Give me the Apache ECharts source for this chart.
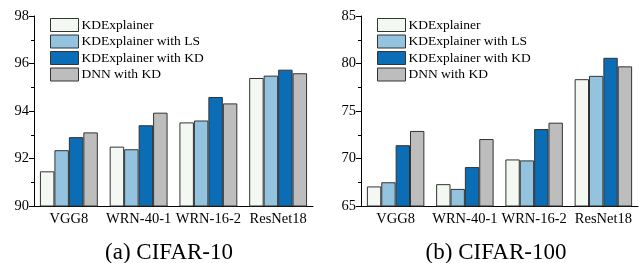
<!DOCTYPE html>
<html><head><meta charset="utf-8">
<script src="https://cdn.jsdelivr.net/npm/echarts@6/dist/echarts.min.js"></script>
<style>html,body{margin:0;padding:0;background:#fff}#c{width:644px;height:263px}</style>
</head><body><div id="c"></div>
<script>
const categories = ['VGG8', 'WRN-40-1', 'WRN-16-2', 'ResNet18'];
const seriesNames = ['KDExplainer', 'KDExplainer with LS', 'KDExplainer with KD', 'DNN with KD'];
const cifar10_KDExplainer = [91.46, 92.5, 93.52, 95.39];
const cifar10_LS = [92.35, 92.39, 93.6, 95.49];
const cifar10_KD = [92.9, 93.4, 94.59, 95.74];
const cifar10_DNN = [93.1, 93.93, 94.32, 95.59];
const cifar100_KDExplainer = [67.06, 67.3, 69.9, 78.35];
const cifar100_LS = [67.5, 66.8, 69.8, 78.7];
const cifar100_KD = [71.4, 69.1, 73.1, 80.6];
const cifar100_DNN = [72.9, 72.05, 73.77, 79.7];
const titles = ['(a) CIFAR-10', '(b) CIFAR-100'];

const colors = ['#f3f8f3', '#94c3df', '#0b6db5', '#bdbdbd'];
const font = 'Liberation Serif';
const chart = echarts.init(document.getElementById('c'), null, {renderer: 'canvas'});

function yAxis(gi, min, max, interval) {
  return {
    type: 'value', gridIndex: gi, min: min, max: max, interval: interval,
    axisLine: {show: true, lineStyle: {color: '#000', width: 1}},
    axisTick: {show: true, inside: false, length: 5, lineStyle: {color: '#000'}},
    minorTick: {show: true, splitNumber: 2, length: 3, lineStyle: {color: '#000'}},
    splitLine: {show: false},
    axisLabel: {color: '#000', fontFamily: font, fontSize: 14.5, margin: 5}
  };
}
function xAxis(gi) {
  return {
    type: 'category', gridIndex: gi, data: categories,
    axisLine: {show: true, lineStyle: {color: '#000', width: 1}},
    axisTick: {show: false},
    axisLabel: {color: '#000', fontFamily: font, fontSize: 14.5, margin: 6, interval: 0}
  };
}
const data10 = [cifar10_KDExplainer, cifar10_LS, cifar10_KD, cifar10_DNN];
const data100 = [cifar100_KDExplainer, cifar100_LS, cifar100_KD, cifar100_DNN];
const series = [];
[data10, data100].forEach((d, gi) => {
  d.forEach((vals, i) => {
    series.push({
      type: 'bar', name: seriesNames[i], xAxisIndex: gi, yAxisIndex: gi, data: vals,
      barGap: '0%', barCategoryGap: '17%',
      itemStyle: {color: colors[i], borderColor: '#333', borderWidth: 1},
      emphasis: {disabled: true}
    });
  });
});
function legend(left) {
  return {
    left: left, top: 18, orient: 'vertical', itemWidth: 28, itemHeight: 13, itemGap: 2.5,
    icon: 'rect',
    data: seriesNames.map((n) => ({name: n})),
    textStyle: {color: '#000', fontFamily: font, fontSize: 13.5, padding: [0, 0, 0, -2]},
    itemStyle: {borderColor: '#333', borderWidth: 1},
    selectedMode: false, padding: 0
  };
}
chart.setOption({
  animation: false,
  grid: [
    {left: 34, top: 16, width: 279, height: 190},
    {left: 361, top: 16, width: 277, height: 190}
  ],
  xAxis: [xAxis(0), xAxis(1)],
  yAxis: [yAxis(0, 90, 98, 2), yAxis(1, 65, 85, 5)],
  legend: [legend(50), legend(377)],
  title: [
    {text: titles[0], left: 164, top: 236, textAlign: 'center', textStyle: {fontFamily: font, fontSize: 23, fontWeight: 'normal', color: '#000'}},
    {text: titles[1], left: 491, top: 236, textAlign: 'center', textStyle: {fontFamily: font, fontSize: 23, fontWeight: 'normal', color: '#000'}}
  ],
  series: series
});
</script></body></html>
